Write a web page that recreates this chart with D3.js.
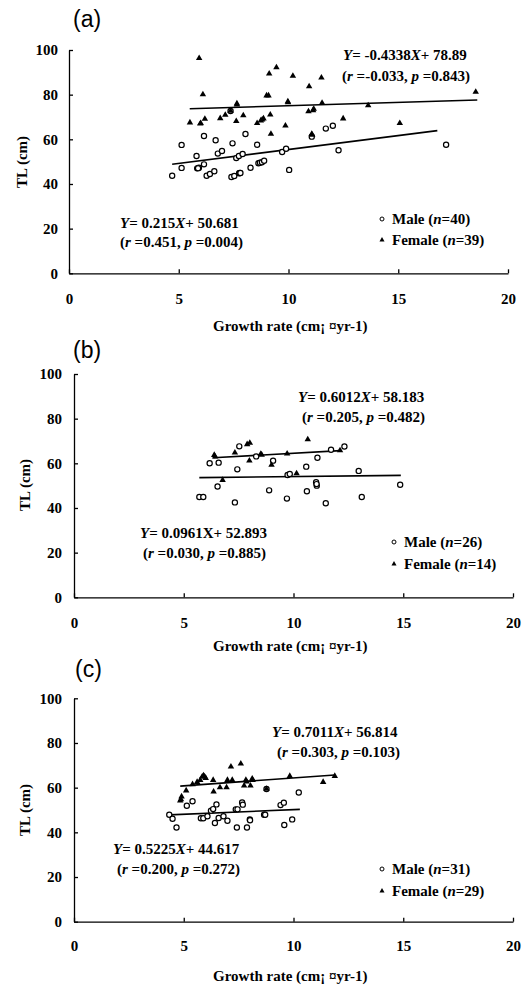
<!DOCTYPE html>
<html>
<head>
<meta charset="utf-8">
<script src="https://cdn.jsdelivr.net/npm/d3@7"></script>
<style>
  body { margin: 0; background: #fff; }
  svg text { font-family: "Liberation Serif", "Times New Roman", serif; font-weight: bold; fill: #000; }
  .tag { font-family: "Liberation Sans", Arial, sans-serif !important; font-weight: normal !important; }
</style>
</head>
<body>
<div class="container"></div>
<script>
const W = 528, H = 985;

const xTicks = [0, 5, 10, 15, 20];
const yTicks = [0, 20, 40, 60, 80, 100];

// panel (a)
const maleA = [[4.70,43.7],[5.13,57.5],[5.13,47.2],[5.81,52.5],[5.84,47.0],[5.92,47.3],[5.88,47.1],
  [6.15,61.5],[6.15,48.8],[6.27,43.7],[6.42,44.5],[6.62,45.7],[6.68,59.6],[6.78,53.6],[6.97,54.8],
  [7.36,72.7],[7.40,43.1],[7.45,58.2],[7.53,43.6],[7.62,51.6],[7.74,52.5],[7.75,44.8],[7.78,44.9],
  [7.81,44.9],[7.91,53.4],[8.04,62.4],[8.27,47.3],[8.57,57.6],[8.63,49.3],[8.70,49.5],[8.79,49.7],
  [8.89,50.4],[9.71,54.3],[9.89,55.8],[10.03,46.3],[11.06,61.2],[11.70,64.8],[12.02,66.1],
  [12.28,55.1],[17.18,57.6]];
const femaleA = [[5.51,67.5],[5.93,96.3],[5.98,67.0],[6.00,67.2],[6.10,80.1],[6.19,69.1],[6.89,69.4],
  [7.12,70.9],[7.36,72.7],[7.65,76.0],[7.65,75.5],[7.62,68.1],[7.94,70.7],[8.57,67.2],[8.74,68.4],
  [8.80,68.8],[8.86,69.3],[9.00,79.6],[9.09,79.6],[9.12,89.4],[9.17,71.0],[9.20,62.4],[9.45,92.2],
  [9.86,66.1],[9.97,76.9],[9.98,76.5],[10.20,88.4],[10.94,83.7],[10.91,72.5],[11.06,62.4],
  [11.08,62.0],[11.15,73.6],[11.12,73.0],[11.50,87.6],[11.53,76.3],[12.49,69.3],[13.63,75.2],
  [15.07,67.2],[18.53,81.2]];
const lineMaleA = [[4.70,48.8],[16.78,63.9]];
const lineFemaleA = [[5.5,73.7],[18.6,77.6]];

// panel (b)
const maleB = [[5.71,44.9],[5.89,44.9],[6.18,60.0],[6.54,49.6],[6.59,60.3],[7.33,42.5],[7.44,57.3],
  [7.53,67.6],[8.30,63.1],[8.89,47.9],[9.07,61.2],[9.70,44.2],[9.73,54.8],[9.83,55.2],[10.58,58.5],
  [10.61,47.5],[11.03,51.5],[11.06,50.0],[11.05,50.7],[11.09,62.5],[11.47,42.1],[11.71,66.1],
  [12.32,67.5],[12.97,56.6],[13.11,44.9],[14.86,50.4]];
const femaleB = [[6.39,63.7],[6.43,63.0],[6.77,52.5],[7.33,64.8],[7.89,68.5],[8.01,69.1],[7.99,61.2],
  [8.51,64.2],[8.55,63.8],[9.00,59.3],[9.71,64.3],[10.14,55.5],[10.65,70.7],[12.12,65.8]];
const lineMaleB = [[5.71,53.6],[14.89,54.6]];
const lineFemaleB = [[6.34,62.5],[12.14,65.7]];

// panel (c)
const maleC = [[4.34,47.9],[4.49,46.1],[4.67,42.2],[5.14,51.9],[5.40,53.9],[5.78,46.3],[5.89,46.3],
  [6.08,47.2],[6.24,49.7],[6.34,50.4],[6.42,44.2],[6.49,52.5],[6.59,46.4],[6.81,47.2],[6.99,45.2],
  [7.37,50.3],[7.45,50.3],[7.42,42.2],[7.66,53.4],[7.69,52.4],[7.88,42.2],[8.01,45.8],[8.02,45.4],
  [8.66,47.9],[8.71,47.9],[8.77,59.4],[9.41,52.2],[9.56,53.3],[9.58,43.3],[9.94,45.8],[10.24,57.8]];
const femaleC = [[4.84,54.2],[4.87,54.8],[4.90,56.0],[5.11,58.7],[5.40,61.5],[5.61,62.5],[5.75,63.4],
  [5.84,64.9],[5.90,65.5],[5.95,64.9],[6.00,64.3],[6.34,63.4],[6.36,58.2],[6.65,60.1],[6.95,60.1],
  [6.99,63.4],[7.15,69.4],[7.21,63.4],[7.60,70.7],[7.75,60.9],[7.83,63.4],[7.87,62.7],[8.04,60.9],
  [8.12,64.0],[8.14,63.4],[8.77,59.4],[9.83,65.2],[11.35,62.5],[11.88,65.2]];
const lineMaleC = [[4.34,47.8],[10.29,50.3]];
const lineFemaleC = [[4.84,60.7],[11.88,65.7]];

// equation labels: [text, italic]
const eqFemaleA = [["Y",1],["= -0.4338",0],["X",1],["+ 78.89",0]];
const statFemaleA = [["(",0],["r",1],[" =-0.033, ",0],["p",1],[" =0.843)",0]];
const eqMaleA = [["Y",1],["= 0.215",0],["X",1],["+ 50.681",0]];
const statMaleA = [["(",0],["r",1],[" =0.451, ",0],["p",1],[" =0.004)",0]];
const eqFemaleB = [["Y",1],["= 0.6012",0],["X",1],["+ 58.183",0]];
const statFemaleB = [["(",0],["r",1],[" =0.205, ",0],["p",1],[" =0.482)",0]];
const eqMaleB = [["Y",1],["= 0.0961X+ 52.893",0]];
const statMaleB = [["(",0],["r",1],[" =0.030, ",0],["p",1],[" =0.885)",0]];
const eqFemaleC = [["Y",1],["= 0.7011",0],["X",1],["+ 56.814",0]];
const statFemaleC = [["(",0],["r",1],[" =0.303, ",0],["p",1],[" =0.103)",0]];
const eqMaleC = [["Y",1],["= 0.5225",0],["X",1],["+ 44.617",0]];
const statMaleC = [["(",0],["r",1],[" =0.200, ",0],["p",1],[" =0.272)",0]];

const legendA = [40, 39];
const legendB = [26, 14];
const legendC = [31, 29];

var svg = d3.select(".container").append("svg")
    .attr("width", W).attr("height", H);

function richText(g, x, y, parts){
    var t = g.append("text").attr("x", x).attr("y", y).style("font-size", "15px");
    parts.forEach(function(p){
        t.append("tspan").text(p[0]).style("font-style", p[1] ? "italic" : "normal");
    });
    return t;
}

var panels = [
  {tag:"(a)", tx:73, ty:27, left:69, right:508, top:50, bottom:273.3, male:maleA, female:femaleA,
   lm:lineMaleA, lf:lineFemaleA, eqF:[eqFemaleA, statFemaleA], fPos:[[343,60],[342,81]],
   eqM:[eqMaleA, statMaleA], mPos:[[120,228],[120,247]], n:legendA, legX:382, legY:[219,240],
   ytx:27, ycy:162, xTitleY:331, ypad:11, xpad:20},
  {tag:"(b)", tx:73, ty:358, left:74, right:513, top:374, bottom:597.3, male:maleB, female:femaleB,
   lm:lineMaleB, lf:lineFemaleB, eqF:[eqFemaleB, statFemaleB], fPos:[[298,402],[302,422]],
   eqM:[eqMaleB, statMaleB], mPos:[[140,538],[143,558]], n:legendB, legX:394, legY:[542,564],
   ytx:30, ycy:485, xTitleY:651, ypad:12, xpad:20},
  {tag:"(c)", tx:75, ty:677, left:74, right:513, top:698.3, bottom:921.7, male:maleC, female:femaleC,
   lm:lineMaleC, lf:lineFemaleC, eqF:[eqFemaleC, statFemaleC], fPos:[[272,737],[277,757]],
   eqM:[eqMaleC, statMaleC], mPos:[[113,854],[117,874]], n:legendC, legX:382, legY:[869,891],
   ytx:30, ycy:810, xTitleY:981, ypad:12, xpad:19}
];

panels.forEach(function(p){
    var x = d3.scaleLinear().domain([0, 20]).range([p.left, p.right]);
    var y = d3.scaleLinear().domain([0, 100]).range([p.bottom, p.top]);
    var g = svg.append("g");

    g.append("text").attr("class", "tag").attr("x", p.tx).attr("y", p.ty)
        .style("font-size", "23px").text(p.tag);

    var xAxis = d3.axisBottom(x).tickValues(xTicks).tickSizeInner(-4).tickSizeOuter(0).tickPadding(p.xpad);
    var yAxis = d3.axisLeft(y).tickValues(yTicks).tickSizeInner(-4).tickSizeOuter(0).tickPadding(p.ypad);

    var gx = g.append("g").attr("transform", "translate(0," + p.bottom + ")").call(xAxis);
    var gy = g.append("g").attr("transform", "translate(" + p.left + ",0)").call(yAxis);
    [gx, gy].forEach(function(a){
        a.selectAll("path, line").attr("stroke", "#000").attr("stroke-width", 1.3);
        a.selectAll("text").style("font-size", "15px")
            .style("font-family", '"Liberation Serif", "Times New Roman", serif').style("font-weight", "bold");
    });

    // axis titles
    g.append("text").attr("transform", "translate(" + p.ytx + "," + p.ycy + ") rotate(-90)")
        .attr("text-anchor", "middle").style("font-size", "15px").text("TL (cm)");
    g.append("text").attr("x", 213).attr("y", p.xTitleY).style("font-size", "15px")
        .text("Growth rate (cm¡ ¤yr-1)");

    // trend lines
    var line = d3.line().x(function(d){ return x(d[0]); }).y(function(d){ return y(d[1]); });
    [p.lm, p.lf].forEach(function(l){
        g.append("path").attr("d", line(l)).attr("fill", "none")
            .attr("stroke", "#000").attr("stroke-width", 1.6);
    });

    // points
    g.selectAll(".m").data(p.male).enter().append("circle")
        .attr("cx", function(d){ return x(d[0]); })
        .attr("cy", function(d){ return y(d[1]); })
        .attr("r", 2.6).attr("fill", "#fff").attr("stroke", "#000").attr("stroke-width", 1.2);
    var tri = d3.symbol().type(d3.symbolTriangle).size(18);
    g.selectAll(".f").data(p.female).enter().append("path")
        .attr("d", tri)
        .attr("transform", function(d){ return "translate(" + x(d[0]) + "," + y(d[1]) + ")"; })
        .attr("fill", "#000");

    // equations
    richText(g, p.fPos[0][0], p.fPos[0][1], p.eqF[0]);
    richText(g, p.fPos[1][0], p.fPos[1][1], p.eqF[1]);
    richText(g, p.mPos[0][0], p.mPos[0][1], p.eqM[0]);
    richText(g, p.mPos[1][0], p.mPos[1][1], p.eqM[1]);

    // legend
    g.append("circle").attr("cx", p.legX).attr("cy", p.legY[0]).attr("r", 2)
        .attr("fill", "#fff").attr("stroke", "#000").attr("stroke-width", 1);
    g.append("path").attr("d", d3.symbol().type(d3.symbolTriangle).size(11))
        .attr("transform", "translate(" + p.legX + "," + p.legY[1] + ")");
    richText(g, p.legX + 10, p.legY[0] + 5, [["Male (",0],["n",1],["=" + p.n[0] + ")",0]]);
    richText(g, p.legX + 10, p.legY[1] + 5, [["Female (",0],["n",1],["=" + p.n[1] + ")",0]]);
});
</script>
</body>
</html>
